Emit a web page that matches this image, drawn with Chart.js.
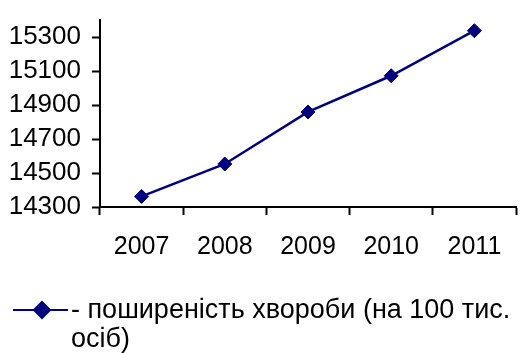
<!DOCTYPE html>
<html>
<head>
<meta charset="utf-8">
<script src="https://cdn.jsdelivr.net/npm/chart.js@4/dist/chart.umd.min.js"></script>
<style>
  html, body { margin: 0; padding: 0; background: #fff; overflow: hidden; }
  #wrap { width: 524px; height: 353px; position: relative; }
</style>
</head>
<body>
<div id="wrap"><canvas id="chart"></canvas></div>
<script>
// роки та поширеність хвороби (на 100 тис. осіб)
var years = ['2007', '2008', '2009', '2010', '2011'];
var prevalence = [14362, 14553, 14859, 15072, 15337];
var yTicks = [14300, 14500, 14700, 14900, 15100, 15300];
var legendLines = ['- поширеність хвороби (на 100 тис.', 'осіб)'];

var navy = '#000080';
var font = 'Liberation Sans, Arial, sans-serif';

// легенда малюється вручну: лінія з ромбом і текст у два рядки
var legendPlugin = {
    id: 'bottomLegend',
    afterDraw: function (chart) {
        var ctx = chart.ctx;
        var y = 310;
        ctx.save();
        ctx.strokeStyle = navy;
        ctx.lineWidth = 2;
        ctx.beginPath();
        ctx.moveTo(13, y);
        ctx.lineTo(68, y);
        ctx.stroke();
        Chart.helpers.drawPoint(ctx, { pointStyle: 'rectRot', radius: 8, borderWidth: 1 }, 42, y);
        ctx.fillStyle = navy;
        ctx.fill();
        ctx.fillStyle = '#000';
        ctx.font = '27px ' + font;
        ctx.textBaseline = 'middle';
        ctx.textAlign = 'left';
        for (var i = 0; i < legendLines.length; i++) {
            ctx.fillText(legendLines[i], 71, y + 1 + i * 29);
        }
        ctx.restore();
    }
};

var ctx = document.getElementById('chart');
var chart = new Chart(ctx, {
    type: 'line',
    data: {
        labels: years,
        datasets: [{
            label: legendLines.join(' '),
            data: prevalence,
            borderColor: navy,
            backgroundColor: navy,
            borderWidth: 2.5,
            pointStyle: 'rectRot',
            pointRadius: 7,
            pointBorderWidth: 1,
            pointBorderColor: navy,
            pointBackgroundColor: navy,
            tension: 0
        }]
    },
    options: {
        responsive: true,
        maintainAspectRatio: false,
        animation: false,
        layout: { padding: { top: 20, right: 1, bottom: 86, left: 0 } },
        plugins: {
            legend: { display: false },
            tooltip: { enabled: false }
        },
        scales: {
            x: {
                offset: true,
                grid: {
                    drawOnChartArea: false,
                    drawTicks: true,
                    tickLength: 8,
                    tickWidth: 2,
                    tickColor: '#000',
                    offset: true
                },
                border: { display: true, color: '#000', width: 2 },
                ticks: {
                    color: '#000',
                    font: { family: font, size: 25 },
                    padding: 17,
                    maxRotation: 0
                },
                afterFit: function (scale) {
                    scale.height = 60;
                    scale.paddingLeft = 0;
                    scale.paddingRight = 0;
                }
            },
            y: {
                min: 14300,
                max: 15400,
                grid: {
                    drawOnChartArea: false,
                    drawTicks: true,
                    tickLength: 8,
                    tickWidth: 2,
                    tickColor: '#000'
                },
                border: { display: true, color: '#000', width: 2 },
                ticks: {
                    color: '#000',
                    font: { family: font, size: 26 },
                    padding: 11,
                    callback: function (value) { return String(value); }
                },
                afterBuildTicks: function (scale) {
                    scale.ticks = yTicks.map(function (v) { return { value: v }; });
                },
                afterFit: function (scale) {
                    scale.width = 100;
                    scale.paddingTop = 0;
                    scale.paddingBottom = 0;
                }
            }
        }
    },
    plugins: [legendPlugin]
});
</script>
</body>
</html>
